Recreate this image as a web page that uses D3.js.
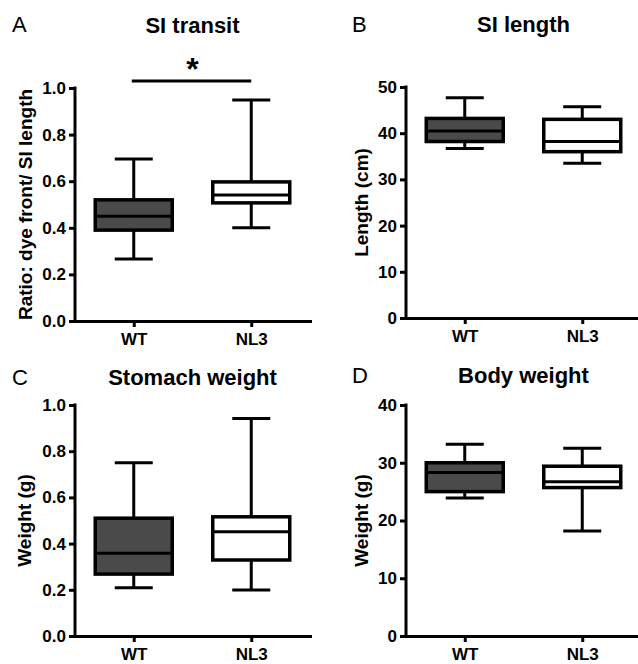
<!DOCTYPE html>
<html>
<head>
<meta charset="utf-8">
<script src="https://cdn.jsdelivr.net/npm/d3@7"></script>
<style>
  body { margin: 0; background: #fff; }
  svg { display: block; font-family: 'Liberation Sans', Arial, sans-serif; }
  .axis path, .axis line { stroke: #000; stroke-width: 3; }
  .axis path { stroke-linecap: square; }
  .axis text { font-size: 17px; font-weight: bold; fill: #000; }
</style>
</head>
<body>
<svg id="chart" width="638" height="664"></svg>
<script>
// groups and box stats: [min, q1, median, q3, max]
const groups = ['WT', 'NL3'];
const siTransit = [[0.266, 0.39, 0.45, 0.52, 0.695], [0.40, 0.507, 0.541, 0.597, 0.948]];
const siLength = [[36.7, 38.2, 40.5, 43.2, 47.7], [33.5, 36.0, 38.2, 43.0, 45.7]];
const stomachWeight = [[0.209, 0.268, 0.358, 0.51, 0.75], [0.199, 0.329, 0.451, 0.516, 0.942]];
const bodyWeight = [[23.9, 25.0, 28.3, 30.0, 33.2], [18.2, 25.7, 26.7, 29.4, 32.5]];

const ticks01 = [0, 0.2, 0.4, 0.6, 0.8, 1.0];
const ticks50 = [0, 10, 20, 30, 40, 50];
const ticks40 = [0, 10, 20, 30, 40];

const fills = ['#4a4a4a', '#ffffff'];

const panels = [
  { letter: 'A', title: 'SI transit', ylabel: 'Ratio: dye front/ SI length', stats: siTransit,
    domain: [0, 1], ticks: ticks01, fmt: d3.format('.1f'),
    x0: 75, x1: 310, yTop: 88, yBot: 321, titleY: 33, letterX: 12, letterY: 32, ylabelX: 25, sig: true },
  { letter: 'B', title: 'SI length', ylabel: 'Length (cm)', stats: siLength,
    domain: [0, 50], ticks: ticks50, fmt: d3.format('d'),
    x0: 406, x1: 641, yTop: 87, yBot: 318, titleY: 32, letterX: 352, letterY: 32, ylabelX: 361 },
  { letter: 'C', title: 'Stomach weight', ylabel: 'Weight (g)', stats: stomachWeight,
    domain: [0, 1], ticks: ticks01, fmt: d3.format('.1f'),
    x0: 75, x1: 310, yTop: 405, yBot: 636, titleY: 385, letterX: 12, letterY: 385, ylabelX: 24 },
  { letter: 'D', title: 'Body weight', ylabel: 'Weight (g)', stats: bodyWeight,
    domain: [0, 40], ticks: ticks40, fmt: d3.format('d'),
    x0: 406, x1: 641, yTop: 405, yBot: 636, titleY: 383, letterX: 352, letterY: 383, ylabelX: 361 },
];

const svg = d3.select('#chart');
const boxWidth = 77;
const capWidth = 38;

panels.forEach((p) => {
  const g = svg.append('g');

  const x = d3.scalePoint().domain(groups).range([p.x0, p.x1]).padding(0.5);
  const y = d3.scaleLinear().domain(p.domain).range([p.yBot, p.yTop]);

  g.append('text')
    .attr('x', p.letterX)
    .attr('y', p.letterY)
    .attr('font-size', 22)
    .text(p.letter);

  g.append('text')
    .attr('x', (p.x0 + p.x1) / 2)
    .attr('y', p.titleY)
    .attr('text-anchor', 'middle')
    .attr('font-size', 22)
    .attr('font-weight', 'bold')
    .text(p.title);

  g.append('text')
    .attr('transform', `translate(${p.ylabelX}, ${(p.yTop + p.yBot) / 2}) rotate(-90)`)
    .attr('text-anchor', 'middle')
    .attr('dy', '0.35em')
    .attr('font-size', 19)
    .attr('font-weight', 'bold')
    .text(p.ylabel);

  g.append('g')
    .attr('class', 'axis')
    .attr('transform', `translate(${p.x0}, 0)`)
    .call(d3.axisLeft(y).tickValues(p.ticks).tickFormat(p.fmt).tickSize(6).tickSizeOuter(0).tickPadding(3))
    .call((a) => a.select('.domain').attr('d', `M0,${p.yBot}V${p.yTop}`));

  g.append('g')
    .attr('class', 'axis')
    .attr('transform', `translate(0, ${p.yBot})`)
    .call(d3.axisBottom(x).tickSize(6).tickSizeOuter(0).tickPadding(6));

  const boxes = g.selectAll('.box')
    .data(p.stats.map((s, i) => ({ group: groups[i], s, fill: fills[i] })))
    .join('g')
    .attr('class', 'box');

  // whiskers
  boxes.append('line')
    .attr('x1', (d) => x(d.group)).attr('x2', (d) => x(d.group))
    .attr('y1', (d) => y(d.s[0])).attr('y2', (d) => y(d.s[4]))
    .attr('stroke', '#000').attr('stroke-width', 3);

  boxes.selectAll('.cap')
    .data((d) => [d.s[0], d.s[4]].map((v) => ({ v, cx: x(d.group) })))
    .join('line')
    .attr('class', 'cap')
    .attr('x1', (d) => d.cx - capWidth / 2).attr('x2', (d) => d.cx + capWidth / 2)
    .attr('y1', (d) => y(d.v)).attr('y2', (d) => y(d.v))
    .attr('stroke', '#000').attr('stroke-width', 3);

  boxes.append('rect')
    .attr('x', (d) => x(d.group) - boxWidth / 2)
    .attr('width', boxWidth)
    .attr('y', (d) => y(d.s[3]))
    .attr('height', (d) => y(d.s[1]) - y(d.s[3]))
    .attr('fill', (d) => d.fill)
    .attr('stroke', '#000').attr('stroke-width', 3.5);

  boxes.append('line')
    .attr('x1', (d) => x(d.group) - boxWidth / 2).attr('x2', (d) => x(d.group) + boxWidth / 2)
    .attr('y1', (d) => y(d.s[2])).attr('y2', (d) => y(d.s[2]))
    .attr('stroke', '#000').attr('stroke-width', 3);

  if (p.sig) {
    g.append('line')
      .attr('x1', x('WT') - 2).attr('x2', x('NL3'))
      .attr('y1', 81).attr('y2', 81)
      .attr('stroke', '#000').attr('stroke-width', 3);
    g.append('text')
      .attr('x', (x('WT') + x('NL3')) / 2)
      .attr('y', 80)
      .attr('text-anchor', 'middle')
      .attr('font-size', 32)
      .attr('font-weight', 'bold')
      .text('*');
  }
});
</script>
</body>
</html>
